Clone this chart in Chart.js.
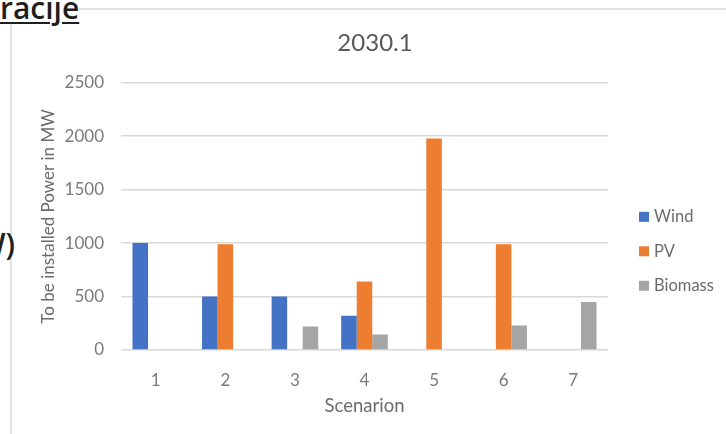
<!DOCTYPE html>
<html>
<head>
<meta charset="utf-8">
<title>2030.1</title>
<script src="https://cdn.jsdelivr.net/npm/chart.js@4.4.1/dist/chart.umd.min.js"></script>
<style>
  html, body { margin: 0; padding: 0; background: #fff; overflow: hidden; }
  body { width: 726px; height: 434px; position: relative; }
  .frame {
    position: absolute; left: 10px; top: 8px; width: 740px; height: 440px;
    border-left: 2px solid #e2e2e2; border-top: 2px solid #e2e2e2;
  }
  .page-text {
    position: absolute; font-family: "Open Sans", sans-serif; font-weight: 600;
    font-size: 30px; line-height: 30px; color: #1f1f1f; white-space: nowrap;
  }
  .heading { left: 0; top: -7px; text-decoration: underline; text-decoration-thickness: 2px; text-underline-offset: 3px; background: #fff; }
  .side { right: 711px; top: 229px; }
  #chart { position: absolute; left: 0; top: 0; }
</style>
</head>
<body>
<div class="frame"></div>
<div class="page-text heading">racije</div>
<div class="page-text side">(MW)</div>
<canvas id="chart" width="726" height="434"></canvas>

<script>
  // Installed power per scenario (MW)
  const scenarios = ['1', '2', '3', '4', '5', '6', '7'];
  const wind = [1000, 500, 500, 320, 0, 0, 0];
  const pv = [0, 990, 0, 640, 1980, 990, 0];
  const biomass = [0, 0, 220, 145, 0, 230, 450];
  const yTicks = [0, 500, 1000, 1500, 2000, 2500];

  const gridColor = '#d9d9d9';
  const tickColor = '#7a7a7a';

  // legend drawn as a column to the right of the plot
  const sideLegend = {
    id: 'sideLegend',
    afterDraw(chart) {
      const ctx = chart.ctx;
      const area = chart.chartArea;
      ctx.save();
      ctx.font = '16.5px Lato';
      ctx.textBaseline = 'middle';
      ctx.textAlign = 'left';
      chart.data.datasets.forEach(function(ds, i) {
        const y = area.top + 134 + i * 34.5;
        ctx.fillStyle = ds.backgroundColor;
        ctx.fillRect(area.right + 31, y - 5, 10, 10);
        ctx.fillStyle = '#6b6b6b';
        ctx.fillText(ds.label, area.right + 46, y);
      });
      ctx.restore();
    }
  };

  function drawChart() {
    const ctx = document.getElementById('chart').getContext('2d');
    new Chart(ctx, {
      type: 'bar',
      data: {
        labels: scenarios,
        datasets: [
          { label: 'Wind', data: wind, backgroundColor: '#4472c4' },
          { label: 'PV', data: pv, backgroundColor: '#ed7d31' },
          { label: 'Biomass', data: biomass, backgroundColor: '#a5a5a5' }
        ]
      },
      options: {
        responsive: false,
        animation: false,
        layout: { padding: { left: 24, right: 0, top: 0, bottom: 0 } },
        datasets: {
          bar: { categoryPercentage: 0.67, barPercentage: 1.0, borderWidth: 0 }
        },
        plugins: {
          legend: { display: false },
          tooltip: { enabled: false },
          title: {
            display: true,
            text: '2030.1',
            color: '#595959',
            font: { family: 'Lato', size: 24, weight: 'normal' },
            padding: { top: 29, bottom: 25 }
          }
        },
        scales: {
          x: {
            grid: { display: false },
            border: { display: false },
            ticks: { color: tickColor, font: { family: 'Lato', size: 17 }, padding: 12 },
            title: {
              display: true,
              text: 'Scenarion',
              color: '#6b6b6b',
              font: { family: 'Lato', size: 18.5 },
              padding: { top: 0, bottom: 17 }
            },
            afterFit: function(scale) { scale.height = 84; }
          },
          y: {
            min: 0,
            max: 2500,
            afterBuildTicks: function(scale) {
              scale.ticks = yTicks.map(function(v) { return { value: v }; });
            },
            grid: { color: gridColor, lineWidth: 1.5, drawTicks: false },
            border: { display: false },
            ticks: {
              color: tickColor,
              font: { family: 'Lato', size: 17 },
              padding: 17,
              callback: function(value) { return String(value); }
            },
            title: {
              display: true,
              text: 'To be installed Power in MW',
              color: '#6b6b6b',
              font: { family: 'Lato', size: 17 },
              padding: { top: 14, bottom: 0 }
            },
            afterFit: function(scale) { scale.width = 97; }
          },
          // empty right-hand axis that reserves room for the legend column
          side: {
            type: 'linear',
            position: 'right',
            grid: { display: false },
            border: { display: false },
            ticks: { display: false },
            afterFit: function(scale) { scale.width = 118; }
          }
        }
      },
      plugins: [sideLegend]
    });
  }

  Promise.all([
    document.fonts.load('16px Lato'),
    document.fonts.load('600 30px "Open Sans"')
  ]).then(drawChart, drawChart);
</script>
</body>
</html>
